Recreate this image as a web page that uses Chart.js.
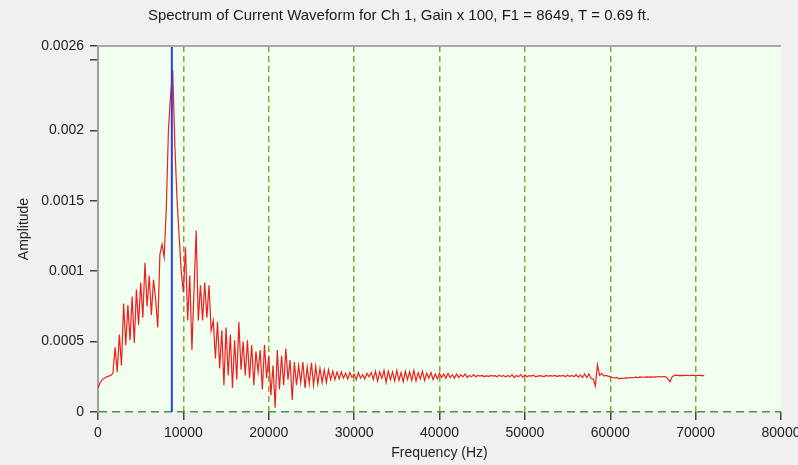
<!DOCTYPE html>
<html>
<head>
<meta charset="utf-8">
<script src="https://cdn.jsdelivr.net/npm/chart.js@4.4.0/dist/chart.umd.min.js"></script>
<style>
  html, body { margin: 0; padding: 0; background: #f0f0f0; }
  #wrap { width: 798px; height: 465px; position: relative; }
</style>
</head>
<body>
<div id="wrap"><canvas id="c" width="798" height="465"></canvas></div>
<script>
// ---- Data ----
const titleText = 'Spectrum of Current Waveform for Ch 1, Gain x 100, F1 = 8649, T = 0.69 ft.';
const binWidthHz = 250; // FFT bin spacing
const amplitude = [
  0.000170,0.000210,0.000230,0.000240,0.000250,0.000255,0.000260,0.000275,0.000460,0.000285,
  0.000550,0.000330,0.000770,0.000475,0.000760,0.000510,0.000820,0.000490,0.000870,0.000620,
  0.000920,0.000670,0.001060,0.000750,0.000970,0.000690,0.000940,0.000800,0.000600,0.001120,
  0.001190,0.001100,0.001450,0.002000,0.002250,0.002430,0.001900,0.001520,0.001250,0.001000,
  0.000850,0.001170,0.000650,0.000970,0.000440,0.000870,0.001290,0.000650,0.000900,0.000650,
  0.000920,0.000670,0.000900,0.000580,0.000650,0.000380,0.000640,0.000310,0.000580,0.000190,
  0.000600,0.000260,0.000550,0.000170,0.000510,0.000230,0.000640,0.000300,0.000500,0.000260,
  0.000510,0.000240,0.000475,0.000190,0.000430,0.000285,0.000440,0.000160,0.000475,0.000240,
  0.000400,0.000120,0.000330,0.000030,0.000440,0.000160,0.000400,0.000190,0.000450,0.000230,
  0.000370,0.000085,0.000355,0.000190,0.000330,0.000210,0.000355,0.000170,0.000320,0.000200,
  0.000350,0.000190,0.000325,0.000200,0.000310,0.000210,0.000300,0.000210,0.000300,0.000230,
  0.000290,0.000230,0.000285,0.000235,0.000285,0.000240,0.000275,0.000235,0.000280,0.000245,
  0.000270,0.000230,0.000280,0.000240,0.000265,0.000235,0.000275,0.000250,0.000280,0.000230,
  0.000290,0.000220,0.000285,0.000240,0.000295,0.000210,0.000290,0.000230,0.000285,0.000220,
  0.000295,0.000225,0.000280,0.000215,0.000290,0.000230,0.000285,0.000225,0.000295,0.000220,
  0.000280,0.000235,0.000290,0.000225,0.000275,0.000240,0.000280,0.000230,0.000270,0.000235,
  0.000275,0.000245,0.000270,0.000240,0.000275,0.000245,0.000265,0.000240,0.000270,0.000245,
  0.000265,0.000250,0.000270,0.000245,0.000260,0.000250,0.000265,0.000250,0.000260,0.000255,
  0.000260,0.000250,0.000258,0.000252,0.000260,0.000255,0.000258,0.000250,0.000262,0.000252,
  0.000260,0.000248,0.000260,0.000250,0.000265,0.000245,0.000260,0.000250,0.000265,0.000248,
  0.000262,0.000250,0.000258,0.000255,0.000262,0.000250,0.000255,0.000258,0.000255,0.000252,
  0.000260,0.000255,0.000258,0.000255,0.000260,0.000252,0.000258,0.000255,0.000260,0.000250,
  0.000262,0.000252,0.000260,0.000250,0.000265,0.000248,0.000262,0.000245,0.000270,0.000245,
  0.000270,0.000240,0.000235,0.000185,0.000335,0.000260,0.000275,0.000255,0.000260,0.000255,
  0.000250,0.000245,0.000240,0.000245,0.000235,0.000240,0.000238,0.000242,0.000240,0.000245,
  0.000242,0.000245,0.000248,0.000245,0.000250,0.000247,0.000248,0.000250,0.000248,0.000250,
  0.000248,0.000250,0.000250,0.000252,0.000250,0.000252,0.000250,0.000235,0.000215,0.000250,
  0.000260,0.000262,0.000258,0.000260,0.000258,0.000260,0.000260,0.000258,0.000260,0.000260,
  0.000258,0.000260,0.000260,0.000258,0.000258
];
const markerFreq = 8649; // F1
const xTicks = [0,10000,20000,30000,40000,50000,60000,70000,80000];
const xTickLabels = ['0','10000','20000','30000','40000','50000','60000','70000','80000'];
const yTicks = [0,0.0005,0.001,0.0015,0.002,0.0025,0.0026];
const yTickLabels = ['0','0.0005','0.001','0.0015','0.002','','0.0026'];

// ---- Build ----
const spectrum = amplitude.map((a, i) => ({ x: i * binWidthHz, y: a }));
const marker = [{ x: markerFreq, y: 0 }, { x: markerFreq, y: 0.0026 }];

const FONT = "'Liberation Sans', Arial, sans-serif";

const plotDecor = {
  id: 'plotDecor',
  beforeDraw(chart) {
    const { ctx, chartArea: a } = chart;
    ctx.save();
    ctx.fillStyle = '#f0fff0';
    ctx.fillRect(a.left, a.top, a.right - a.left, a.bottom - a.top);
    ctx.restore();
  },
  afterDraw(chart) {
    const { ctx, chartArea: a } = chart;
    ctx.save();
    ctx.strokeStyle = '#a9a9a9';
    ctx.lineWidth = 2;
    ctx.beginPath();
    ctx.moveTo(a.left, a.top);
    ctx.lineTo(a.right, a.top);
    ctx.stroke();
    ctx.restore();
  }
};

new Chart(document.getElementById('c'), {
  type: 'line',
  data: {
    datasets: [
      { data: spectrum, borderColor: 'rgb(240,30,30)', borderWidth: 1.2, pointRadius: 0, tension: 0, order: 2 },
      { data: marker, borderColor: '#2a3cf0', borderWidth: 2, pointRadius: 0, order: 1 }
    ]
  },
  options: {
    responsive: false,
    animation: false,
    layout: { padding: { left: 0, right: 0, top: 0, bottom: 0 } },
    plugins: {
      legend: { display: false },
      tooltip: { enabled: false },
      title: {
        display: true,
        text: titleText,
        color: '#1a1a1a',
        font: { family: FONT, size: 15, weight: 'normal' },
        padding: { top: 7, bottom: 21 }
      }
    },
    scales: {
      x: {
        type: 'linear',
        min: 0, max: 80000,
        afterBuildTicks(s) { s.ticks = xTicks.map(v => ({ value: v })); },
        afterFit(s) { s.height = 53; s.paddingLeft = 0; s.paddingRight = 0; },
        ticks: {
          color: '#222', font: { family: FONT, size: 14 }, padding: 5, maxRotation: 0, autoSkip: false,
          callback: (v, i) => xTickLabels[i]
        },
        grid: {
          color: c => (c.tick && (c.tick.value === 0 || c.tick.value === 80000)) ? 'rgba(0,0,0,0)' : '#8fa428',
          lineWidth: 1.5,
          drawTicks: true,
          tickLength: 8,
          tickColor: '#444',
          tickWidth: 1.5
        },
        border: { display: false, dash: [6, 4] },
        title: { display: true, text: 'Frequency (Hz)', color: '#222', font: { family: FONT, size: 14 }, padding: { top: 0, bottom: 3 } }
      },
      y: {
        type: 'linear',
        min: 0, max: 0.0026,
        afterBuildTicks(s) { s.ticks = yTicks.map(v => ({ value: v })); },
        afterFit(s) { s.width = 98; },
        ticks: {
          color: '#222', font: { family: FONT, size: 14 }, padding: 6,
          callback: (v, i) => yTickLabels[i]
        },
        grid: {
          color: c => (c.tick && c.tick.value === 0) ? '#3f9a3f' : 'rgba(0,0,0,0)',
          lineWidth: 1.5,
          drawTicks: true,
          tickLength: 8,
          tickColor: '#444',
          tickWidth: 1.5
        },
        border: { display: true, color: '#a0a0a0', width: 2, dash: [8, 5] },
        title: { display: true, text: 'Amplitude', color: '#222', font: { family: FONT, size: 14 }, padding: { top: 16, bottom: 0 } }
      },
      yRight: {
        type: 'linear',
        position: 'right',
        min: 0, max: 1,
        afterFit(s) { s.width = 17; },
        ticks: { display: false },
        grid: { display: false, drawTicks: false },
        border: { display: false }
      }
    }
  },
  plugins: [plotDecor]
});
</script>
</body>
</html>
